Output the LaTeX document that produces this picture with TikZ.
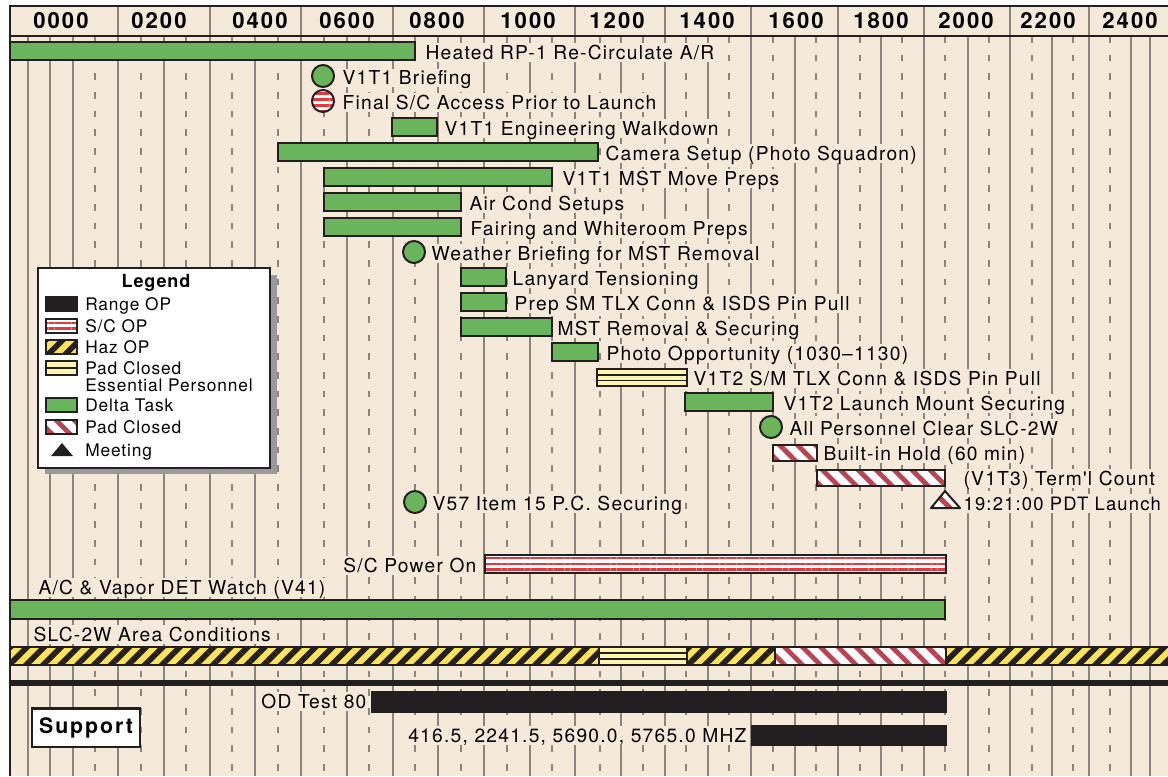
\documentclass[tikz,border=0pt]{standalone}
\usepackage{fontspec}
\setmainfont{TeX Gyre Heros}
\newfontfamily\lblfont{TeX Gyre Heros}[LetterSpace=6.5]
\newfontfamily\hdrfont{TeX Gyre Heros}[LetterSpace=9]
\newfontfamily\legfont{TeX Gyre Heros}[LetterSpace=5]
\usetikzlibrary{patterns.meta}

\definecolor{chartbg}{HTML}{F5EADA}
\definecolor{ink}{HTML}{231F20}
\definecolor{gridgray}{HTML}{8C857E}
\definecolor{deltagreen}{HTML}{6AB55B}
\definecolor{scred}{HTML}{E03A3E}
\definecolor{padred}{HTML}{B9434F}
\definecolor{hazyellow}{HTML}{FDE35A}
\definecolor{padyellow}{HTML}{FFF5B0}
\definecolor{shadowgray}{HTML}{9A9A9A}

\tikzset{
  bar/.style={draw=ink, line width=1.5pt},
  deltatask/.style={bar, fill=deltagreen},
  rangeop/.style={bar, fill=ink},
  scop/.style={bar, preaction={fill=white},
    pattern={Lines[angle=0,distance=4.3pt,line width=2pt]}, pattern color=scred},
  hazop/.style={bar, preaction={fill=hazyellow},
    pattern={Lines[angle=45,distance=9pt,line width=4.3pt]}, pattern color=ink},
  padclosed/.style={bar, preaction={fill=white},
    pattern={Lines[angle=-45,distance=9.5pt,line width=3.6pt]}, pattern color=padred},
  padess/.style={bar, fill=padyellow},
  gridsolid/.style={gridgray, line width=1pt},
  griddash/.style={gridgray, line width=1pt, dash pattern=on 5pt off 9pt},
  lbl/.style={anchor=west, fill=chartbg, inner xsep=1pt, inner ysep=2pt,
    text height=10.2pt, text depth=0pt, font=\lblfont\fontsize{14.4}{16}\selectfont},
  leglbl/.style={anchor=west, inner sep=0pt, text height=9.3pt, text depth=0pt,
    font=\legfont\fontsize{13}{15}\selectfont},
  hdr/.style={font=\hdrfont\bfseries\fontsize{16.6}{18}\selectfont, inner sep=0pt}
}

\begin{document}
\begin{tikzpicture}[x=0.75pt,y=-0.75pt]
  \useasboundingbox (0,0) rectangle (1168,776);
  \fill[white] (0,0) rectangle (1168,776);
  \fill[chartbg] (10,6) rectangle (1168,776);

  % hour grid
  \foreach \x in {28,50,73,118,164,210,255,301,347,393,438,484,530,575,621,665,
                  708,751,795,838,881,924,968,1010,1052,1089,1131,1150}
    \draw[gridsolid] (\x,36) -- (\x,776);
  \foreach \x in {95,141,186,232,278,324,369,415,461,507,552,600,643,686,729,773,
                  816,860,902,945,989,1032,1073,1110}
    \draw[griddash] (\x,36) -- (\x,776);

  % header
  \foreach \x in {118,210,301,393,484,575,665,751,838,924,1010,1089}
    \draw[gridsolid, line width=1.4pt] (\x,6) -- (\x,36);
  \draw[ink, line width=2.2pt] (10,6) -- (1168,6);
  \draw[ink, line width=2.2pt] (10,36) -- (1168,36);
  \draw[ink, line width=2pt] (10,5) -- (10,776);
  \foreach \t/\x in {0000/61,0200/159,0400/260,0600/347,0800/437,1000/528,
                     1200/617,1400/707,1600/796,1800/881,2000/966,2200/1048,2400/1130}
    \node[hdr] (h\t) at (\x,21) {\t};

  % tasks
  \draw[deltatask] (10,42) rectangle (415,60);
  \node[lbl] (heated) at (424,52.5) {Heated RP-1 Re-Circulate A/R};

  \draw[deltatask] (323,76) circle (8.25pt);
  \node[lbl] (brief) at (341,78) {V1T1 Briefing};

  \draw[scop] (323,101) circle (8.25pt);
  \node[lbl] (access) at (341,102.5) {Final S/C Access Prior to Launch};

  \draw[deltatask] (392,118) rectangle (437,136);
  \node[lbl] (walk) at (443,128.5) {V1T1 Engineering Walkdown};

  \draw[deltatask] (278,143) rectangle (598,161);
  \node[lbl] (camera) at (604,153.5) {Camera Setup (Photo Squadron)};

  \draw[deltatask] (324,168) rectangle (552,186);
  \node[lbl] (mstprep) at (561,178.5) {V1T1 MST Move Preps};

  \draw[deltatask] (324,193) rectangle (461,211);
  \node[lbl] (aircond) at (468,203.5) {Air Cond Setups};

  \draw[deltatask] (324,218) rectangle (461,236);
  \node[lbl] (fairing) at (469,228.5) {Fairing and Whiteroom Preps};

  \draw[deltatask] (414,252) circle (8.25pt);
  \node[lbl] (weather) at (430,253.5) {Weather Briefing for MST Removal};

  \draw[deltatask] (461,268) rectangle (506,286);
  \node[lbl] (lanyard) at (511,278.5) {Lanyard Tensioning};

  \draw[deltatask] (461,293) rectangle (506,311);
  \node[lbl] (prepsm) at (513,303.5) {Prep SM TLX Conn \& ISDS Pin Pull};

  \draw[deltatask] (461,318) rectangle (552,336);
  \node[lbl] (mstrem) at (556,328.5) {MST Removal \& Securing};

  \draw[deltatask] (552,343) rectangle (598,361);
  \node[lbl] (photo) at (605,353.5) {Photo Opportunity (1030–1130)};

  \draw[padess] (597,369) rectangle (687,386);
  \draw[ink, line width=0.8pt] (597,375) -- (687,375) (597,380.5) -- (687,380.5);
  \node[lbl] (v1t2sm) at (692,378.5) {V1T2 S/M TLX Conn \& ISDS Pin Pull};

  \draw[deltatask] (685,393) rectangle (773,411);
  \node[lbl] (mount) at (782,403.5) {V1T2 Launch Mount Securing};

  \draw[deltatask] (771,427) circle (8.25pt);
  \node[lbl] (clear) at (788,428.5) {All Personnel Clear SLC-2W};

  \draw[padclosed] (773,445) rectangle (817,461);
  \node[lbl] (hold) at (822,453.5) {Built-in Hold (60 min)};

  \draw[padclosed] (817,470) rectangle (945,486);
  \node[lbl] (count) at (962,478.5) {(V1T3) Term'l Count};

  \draw[deltatask] (415,502) circle (8.25pt);
  \node[lbl] (v57) at (431,503.5) {V57 Item 15 P.C. Securing};

  \draw[padclosed, line join=round] (931,508) -- (960,508) -- (945,491) -- cycle;
  \node[lbl, font=\lblfont\fontsize{13.8}{16}\selectfont] (launch) at (962,503.5) {19:21:00 PDT Launch};

  % long runs
  \draw[scop] (485,555) rectangle (946,573);
  \node[lbl, anchor=east] (power) at (478,565.5) {S/C Power On};

  \node[lbl] (vapor) at (37,587.5) {A/C \& Vapor DET Watch (V41)};
  \draw[deltatask] (10,600) rectangle (945,619);

  \node[lbl] (area) at (32,634.5) {SLC-2W Area Conditions};
  \draw[hazop] (10,647) rectangle (599,665);
  \draw[padess] (599,647) rectangle (687,665);
  \draw[ink, line width=0.8pt] (599,653) -- (687,653) (599,659) -- (687,659);
  \draw[hazop] (687,647) rectangle (775,665);
  \draw[padclosed] (775,647) rectangle (946,665);
  \draw[hazop] (946,647) rectangle (1175,665);

  % support
  \draw[ink, line width=3.8pt] (10,683) -- (1168,683);
  \draw[rangeop] (372,692) rectangle (946,712);
  \node[lbl, anchor=east] (odtest) at (368,701.5) {OD Test 80};
  \draw[rangeop] (752,726) rectangle (946,745);
  \node[lbl, anchor=east] (mhz) at (748,735.5) {416.5, 2241.5, 5690.0, 5765.0 MHZ};
  \node[draw=ink, line width=2pt, fill=white, minimum width=81pt, minimum height=29pt,
        font=\hdrfont\bfseries\fontsize{16}{18}\selectfont] (support) at (86,727.5) {Support};

  % legend
  \fill[shadowgray] (45,275) rectangle (277,474);
  \draw[ink, line width=2pt, fill=white] (38,268) rectangle (270,468);
  \node[font=\legfont\bfseries\fontsize{13.5}{15}\selectfont] (legend) at (156,283) {Legend};
  \draw[rangeop] (46,297) rectangle (77,311);
  \node[leglbl] (lrange) at (85,304) {Range OP};
  \draw[scop] (46,319) rectangle (77,333);
  \node[leglbl] (lsc) at (85,326) {S/C OP};
  \draw[hazop] (46,340) rectangle (77,354);
  \node[leglbl] (lhaz) at (85,347) {Haz OP};
  \draw[padess] (46,361) rectangle (77,375);
  \draw[ink, line width=0.8pt] (46,368) -- (77,368);
  \node[leglbl] (lpadess) at (85,368) {Pad Closed};
  \node[leglbl] (lpadess2) at (85,385) {Essential Personnel};
  \draw[deltatask] (46,398) rectangle (77,412);
  \node[leglbl] (ldelta) at (85,405) {Delta Task};
  \draw[padclosed] (46,420) rectangle (77,434);
  \node[leglbl] (lpad) at (85,427) {Pad Closed};
  \fill[ink] (51,456) -- (73,456) -- (62,443) -- cycle;
  \node[leglbl] (lmeet) at (85,450) {Meeting};
\end{tikzpicture}
\end{document}
